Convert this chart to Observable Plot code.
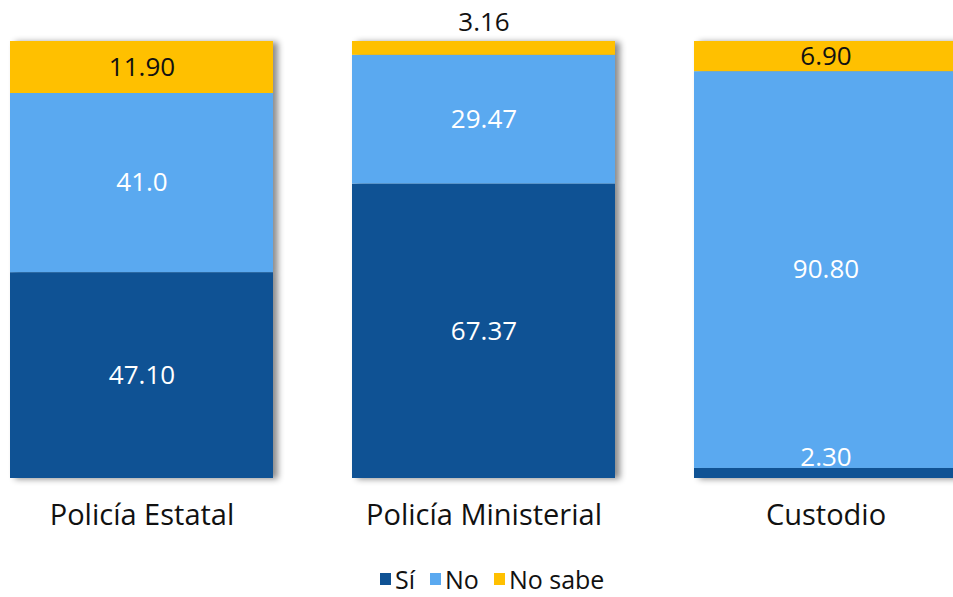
<!DOCTYPE html>
<html>
<head>
<meta charset="utf-8">
<script src="https://cdn.jsdelivr.net/npm/d3@7"></script>
<script src="https://cdn.jsdelivr.net/npm/@observablehq/plot@0.6"></script>
<style>
  html, body { margin: 0; padding: 0; background: #fff; overflow: hidden; width: 953px; height: 597px; position: relative; }
  #chart { width: 953px; height: 545px; overflow: hidden; }
  .legend { position: absolute; left: 380px; top: 562px; height: 34px; line-height: 34px; display: flex; align-items: center;
    font-family: "Open Sans", "Noto Sans", sans-serif; font-size: 25px; color: #111; white-space: nowrap; }
  .legend span.item { display: inline-flex; align-items: center; gap: 4px; margin-right: 15px; }
  .legend i { display: inline-block; width: 11px; height: 12px; }
</style>
</head>
<body>
<div id="chart"></div>
<script>
const categories = ["Policía Estatal", "Policía Ministerial", "Custodio"];
const series = ["Sí", "No", "No sabe"];
const siValues = [47.10, 67.37, 2.30];
const noValues = [41.0, 29.47, 90.80];
const noSabeValues = [11.90, 3.16, 6.90];
const labelText = [
  ["47.10", "41.0", "11.90"],
  ["67.37", "29.47", "3.16"],
  ["2.30", "90.80", "6.90"]
];
const colors = ["#0F5294", "#5AA9F0", "#FFC000"];
const textColors = ["#fff", "#fff", "#111"];

const valuesBySeries = [siValues, noValues, noSabeValues];
const data = [];
categories.forEach((c, ci) => {
  let base = 0;
  series.forEach((s, si) => {
    const v = valuesBySeries[si][ci];
    data.push({category: c, series: s, si, value: v, y1: base, y2: base + v,
      label: labelText[ci][si], small: v < 5});
    base += v;
  });
});

const font = "'Open Sans', 'Noto Sans', sans-serif";
const plot = Plot.plot({
  width: 953,
  height: 545,
  marginTop: 41,
  marginBottom: 67,
  marginLeft: 9,
  marginRight: 0,
  style: {fontFamily: font, background: "#fff", overflow: "visible"},
  x: {domain: categories, range: [9, 957], paddingInner: 0.232, paddingOuter: 0, label: null},
  y: {domain: [0, 100], axis: null},
  color: {domain: series, range: colors},
  marks: [
    Plot.rectY(data, {x: "category", y1: "y1", y2: "y2", fill: "series"}),
    Plot.text(data.filter(d => !d.small), {x: "category", y: d => (d.y1 + d.y2) / 2,
      text: "label", fill: d => textColors[d.si], fontSize: 26}),
    Plot.text(data.filter(d => d.small && d.si === 2), {x: "category", y: "y2",
      text: "label", fill: "#111", fontSize: 26, dy: -19}),
    Plot.text(data.filter(d => d.small && d.si === 0), {x: "category", y: "y2",
      text: "label", fill: "#fff", fontSize: 26, dy: -11}),
    Plot.axisX({tickSize: 0, tickPadding: 26, fontSize: 29, fill: "#111", label: null})
  ]
});
d3.select(plot).select("g[aria-label='rect']")
  .style("filter", "drop-shadow(5px 1px 3px rgba(0,0,0,0.45))");
document.getElementById("chart").appendChild(plot);

const legend = document.createElement("div");
legend.className = "legend";
series.forEach((s, i) => {
  const item = document.createElement("span");
  item.className = "item";
  item.innerHTML = `<i style="background:${colors[i]}"></i>${s}`;
  legend.appendChild(item);
});
document.body.appendChild(legend);
</script>
</body>
</html>
